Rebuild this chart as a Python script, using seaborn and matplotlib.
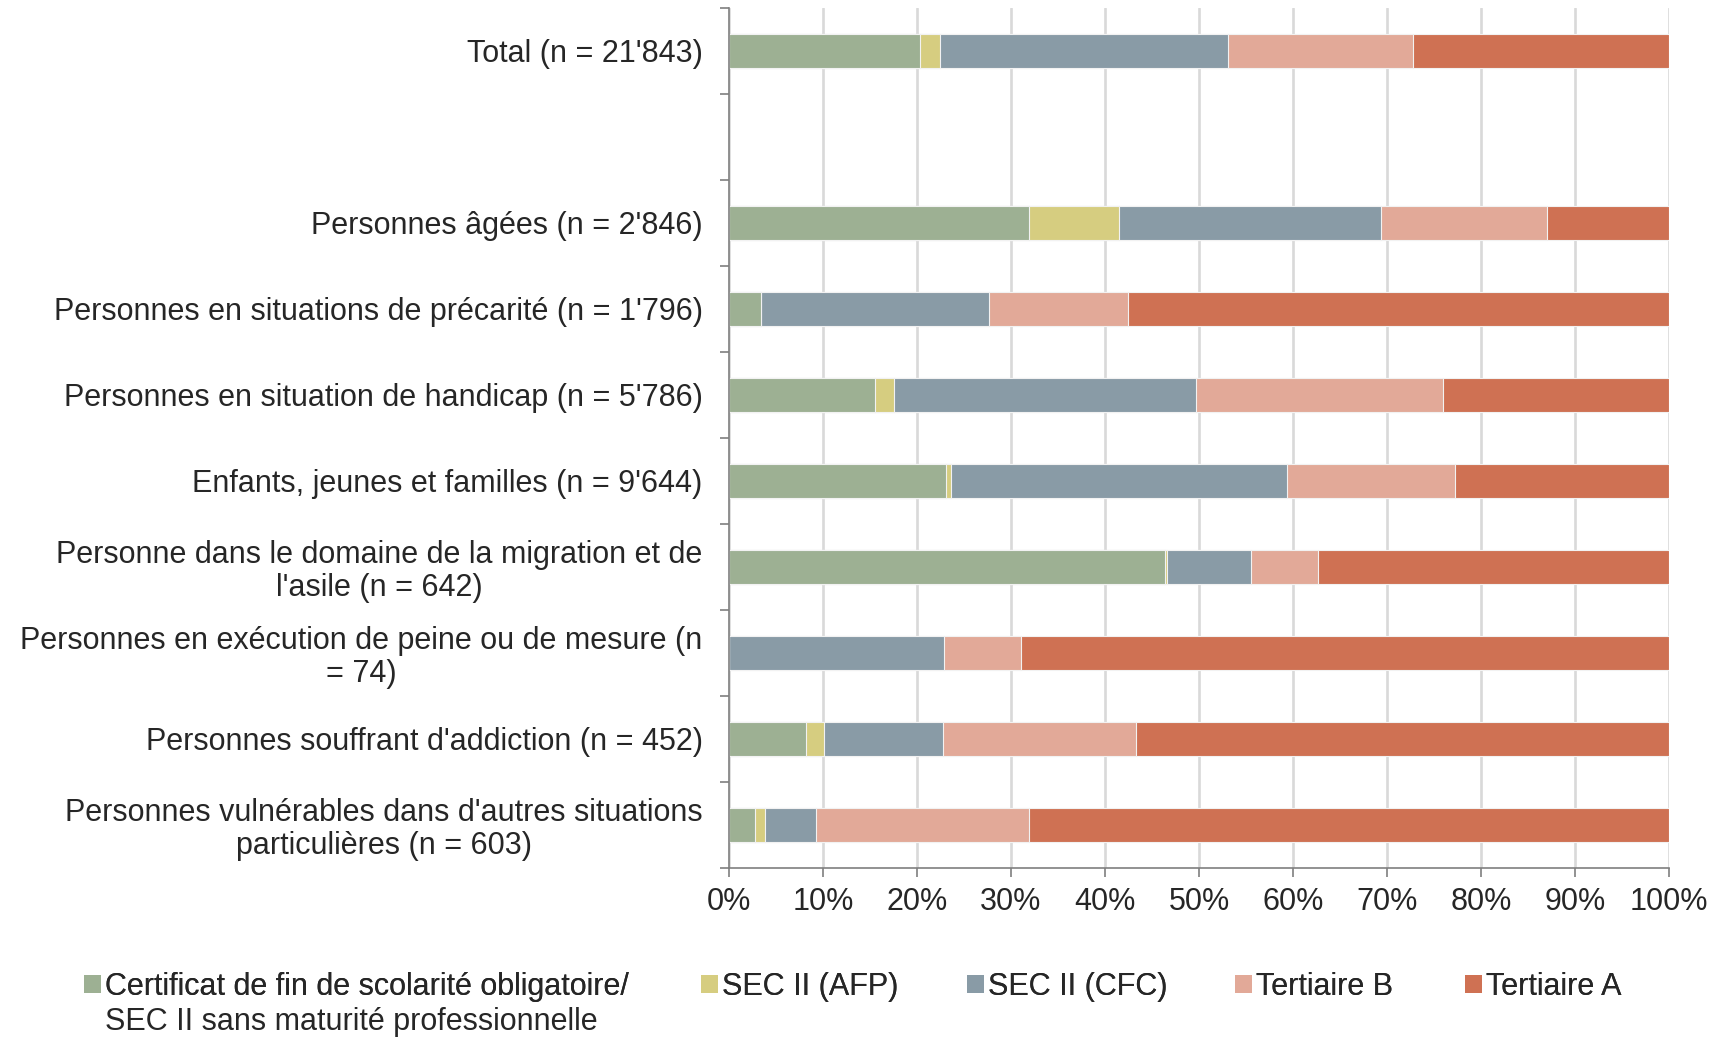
import numpy as np
import pandas as pd
import matplotlib
matplotlib.use("Agg")
import matplotlib.pyplot as plt
from matplotlib.patches import Patch
import seaborn as sns

# Données (parts en %)
categories = [
    "Total (n = 21'843)",
    "",
    "Personnes âgées (n = 2'846)",
    "Personnes en situations de précarité (n = 1'796)",
    "Personnes en situation de handicap (n = 5'786)",
    "Enfants, jeunes et familles (n = 9'644)",
    "Personne dans le domaine de la migration et de\nl'asile (n = 642)",
    "Personnes en exécution de peine ou de mesure (n\n= 74)",
    "Personnes souffrant d'addiction (n = 452)",
    "Personnes vulnérables dans d'autres situations\nparticulières (n = 603)",
]
certificat = [20.35, np.nan, 31.9, 3.45, 15.55, 23.1, 46.4, 0.0, 8.15, 2.75]
sec_afp = [2.1, np.nan, 9.55, 0.0, 2.05, 0.5, 0.15, 0.0, 2.0, 1.05]
sec_cfc = [30.6, np.nan, 27.95, 24.2, 32.1, 35.8, 8.95, 22.9, 12.6, 5.45]
tertiaire_b = [19.7, np.nan, 17.65, 14.8, 26.25, 17.8, 7.15, 8.15, 20.6, 22.65]
tertiaire_a = [27.25, np.nan, 12.95, 57.55, 24.05, 22.8, 37.35, 68.95, 56.65, 68.1]

series_noms = ["Certificat de fin de scolarité obligatoire/", "SEC II (AFP)",
               "SEC II (CFC)", "Tertiaire B", "Tertiaire A"]
couleurs = ["#9DB093", "#D6CD80", "#899BA6", "#E2A998", "#CF7153"]

sns.set_style("white")
plt.rcParams["font.family"] = ["Liberation Sans", "DejaVu Sans"]
FS = 22

fig = plt.figure(figsize=(17.14, 10.38), dpi=100)
ax = fig.add_axes([729 / 1714, 1 - 868 / 1038, 940 / 1714, 860 / 1038])

# barres empilées: on trace les cumuls du plus long au plus court
valeurs = np.array([certificat, sec_afp, sec_cfc, tertiaire_b, tertiaire_a])
cumul = np.cumsum(valeurs, axis=0)
for i in range(4, -1, -1):
    df = pd.DataFrame({"cat": categories, "val": cumul[i]})
    sns.barplot(data=df, x="val", y="cat", order=categories, color=couleurs[i],
                width=0.4, errorbar=None, edgecolor="#F2F2F2", linewidth=0.8,
                saturation=1, ax=ax)

ax.set_xlim(0, 100)
ax.set_ylim(9.5, -0.5)
ax.set_xlabel(""); ax.set_ylabel("")

ax.set_xticks(np.arange(0, 101, 10))
ax.set_xticklabels([f"{v}%" for v in range(0, 101, 10)], fontsize=FS)
ax.set_yticks(range(len(categories)))
ax.set_yticklabels(categories, fontsize=FS)
for t in ax.get_yticklabels():
    t.set_multialignment("center")
    t.set_linespacing(1.1)
ax.set_yticks(np.arange(-0.5, 10, 1), minor=True)

ax.tick_params(axis="y", which="major", length=0, pad=19)
ax.tick_params(axis="y", which="minor", length=6.5, width=1.2, color="#7F7F7F", left=True)
ax.tick_params(axis="x", which="major", length=6.5, width=1.2, color="#7F7F7F",
               bottom=True, pad=7)

ax.grid(axis="x", color="#D9D9D9", linewidth=1.9)
ax.set_axisbelow(True)
for s in ["top", "right"]:
    ax.spines[s].set_visible(False)
for s in ["left", "bottom"]:
    ax.spines[s].set_color("#7F7F7F")
    ax.spines[s].set_linewidth(1.2)

# légende en bas, une entrée par position (mise en page comme l'original)
legende_x = [84, 701, 967, 1235, 1465]
for nom, c, x in zip(series_noms, couleurs, legende_x):
    leg = fig.legend([Patch(facecolor=c, edgecolor="none")], [nom], loc="center left",
                     bbox_to_anchor=(x / 1714, 1 - 987 / 1038), frameon=False, fontsize=FS,
                     handlelength=0.55, handleheight=0.55, handletextpad=0.15,
                     borderpad=0, borderaxespad=0)
    fig.add_artist(leg)
fig.text(105 / 1714, 1 - 1022 / 1038, "SEC II sans maturité professionnelle",
         fontsize=FS, va="center", ha="left")

fig.savefig("out.png", dpi=100)
